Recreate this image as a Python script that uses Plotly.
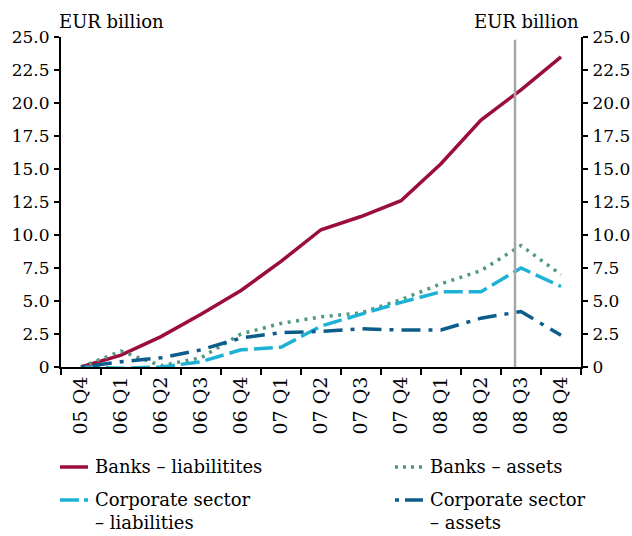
import plotly.graph_objects as go

quarters = ["05 Q4", "06 Q1", "06 Q2", "06 Q3", "06 Q4", "07 Q1", "07 Q2",
            "07 Q3", "07 Q4", "08 Q1", "08 Q2", "08 Q3", "08 Q4"]
banks_liab = [0.0, 0.9, 2.3, 4.0, 5.8, 8.0, 10.4, 11.4, 12.6, 15.4, 18.7, 21.0, 23.5]
banks_assets = [0.0, 1.2, 0.1, 0.7, 2.5, 3.3, 3.8, 4.1, 5.1, 6.3, 7.3, 9.2, 7.0]
corp_liab = [0.0, -0.1, 0.0, 0.4, 1.3, 1.5, 3.1, 4.0, 4.9, 5.7, 5.7, 7.5, 6.1]
corp_assets = [0.0, 0.4, 0.7, 1.3, 2.2, 2.6, 2.7, 2.9, 2.8, 2.8, 3.7, 4.2, 2.4]
y_ticks = [0, 2.5, 5, 7.5, 10, 12.5, 15, 17.5, 20, 22.5, 25]
y_labels = ["0", "2.5", "5.0", "7.5", "10.0", "12.5", "15.0", "17.5", "20.0", "22.5", "25.0"]
marker_pos = 10.85  # grey vertical marker, just left of 08 Q3

FONT = "DejaVu Serif"
W, H = 632, 536
L, R, T, B = 61, 51, 37, 169

series = [
    ("Banks – liabilitites", banks_liab, "#9b0d3a", "solid"),
    ("Banks – assets", banks_assets, "#4f9a7d", "3px,5.5px"),
    ("Corporate sector<br>– liabilities", corp_liab, "#1cb1d5", "19px,6px"),
    ("Corporate sector<br>– assets", corp_assets, "#0d5d8b", "4px,8px,19px,8px"),
]

fig = go.Figure()
for name, vals, color, dash in series:
    fig.add_trace(go.Scatter(x=quarters, y=vals, mode="lines", name=name, showlegend=False,
                             line=dict(color=color, width=3.5, dash=dash)))
# dummy trace so the right axis gets drawn
fig.add_trace(go.Scatter(x=quarters, y=banks_liab, yaxis="y2", mode="lines", showlegend=False,
                         hoverinfo="skip", line=dict(width=0, color="rgba(0,0,0,0)")))

fig.add_shape(type="line", xref="x", yref="y", x0=marker_pos, x1=marker_pos, y0=0, y1=24.8,
              line=dict(color="#a6a6a6", width=2.5), layer="above")


def px(x):
    return (x - L) / (W - L - R)


def py(y):
    return (H - B - y) / (H - T - B)


# hand-built two-column legend
legend_spots = [(60, 467), (395, 467), (60, 500), (395, 500)]
legend_dash = ["solid", "3px,5px", "19px,5px", "4px,6px,19px,8px"]
annotations = []
for (name, _, color, _), dash, (lx, ly) in zip(series, legend_dash, legend_spots):
    fig.add_shape(type="line", xref="paper", yref="paper", x0=px(lx), x1=px(lx + 28),
                  y0=py(ly), y1=py(ly), line=dict(color=color, width=3.5, dash=dash))
    annotations.append(dict(text=name, xref="paper", yref="paper", x=px(lx + 33), y=py(ly - 13),
                            xanchor="left", yanchor="top", align="left", showarrow=False,
                            font=dict(family=FONT, size=18, color="black")))

annotations += [
    dict(text="EUR billion", xref="paper", yref="paper", x=0, y=1, xanchor="left",
         yanchor="bottom", showarrow=False, font=dict(family=FONT, size=18), yshift=3, xshift=-4),
    dict(text="EUR billion", xref="paper", yref="paper", x=1, y=1, xanchor="right",
         yanchor="bottom", showarrow=False, font=dict(family=FONT, size=18), yshift=3),
]

axis_common = dict(range=[0, 25], tickvals=y_ticks, ticktext=y_labels, showgrid=False,
                   zeroline=False, showline=True, linecolor="black", linewidth=2,
                   ticks="outside", ticklen=5, tickwidth=2, tickcolor="black",
                   automargin=False, ticklabelstandoff=1,
                   tickfont=dict(family=FONT, size=17, color="black"))

fig.update_layout(
    width=W, height=H,
    margin=dict(l=L, r=R, t=T, b=B),
    paper_bgcolor="white", plot_bgcolor="white",
    font=dict(family=FONT, size=18, color="black"),
    showlegend=False,
    xaxis=dict(type="category", range=[-0.5, 12.5], tickson="boundaries", showgrid=False,
               showline=True, linecolor="black", linewidth=2, ticks="outside", ticklen=6,
               tickwidth=2, tickcolor="black", tickangle=-90, automargin=False,
               tickfont=dict(family=FONT, size=19, color="black")),
    yaxis=dict(side="left", **axis_common),
    yaxis2=dict(side="right", overlaying="y", **axis_common),
    annotations=annotations,
)

# drop the browser's default page margin so the figure sits at the window corner
fig.write_html("out.html", config={"displayModeBar": False},
               post_script="document.body.style.margin = '0';")
